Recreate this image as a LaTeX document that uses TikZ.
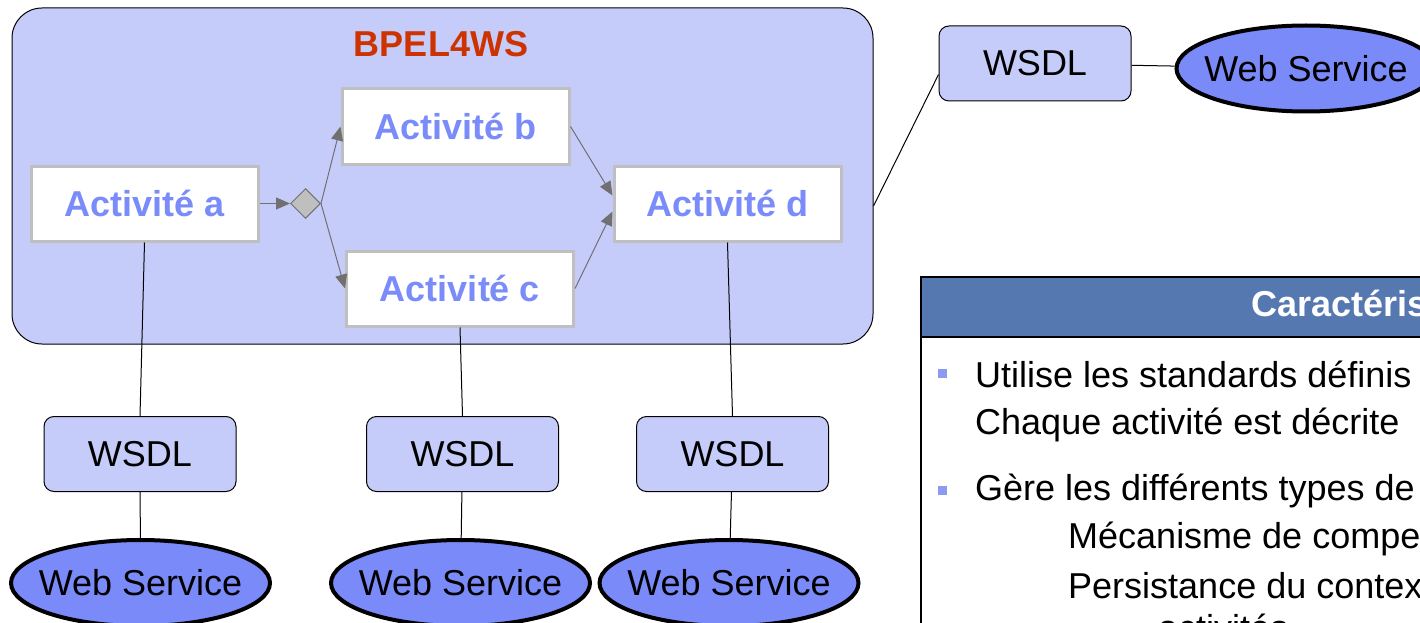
\documentclass[tikz,border=0pt]{standalone}
\usepackage{fontspec}
\setmainfont{Liberation Sans}
\usetikzlibrary{shapes.geometric,arrows.meta}
\definecolor{lavande}{RGB}{198,204,250}
\definecolor{actbleu}{RGB}{122,139,250}
\definecolor{wsbleu}{RGB}{122,138,248}
\definecolor{bpelrouge}{RGB}{204,51,0}
\definecolor{entete}{RGB}{85,120,176}
\definecolor{puce}{RGB}{140,155,240}
\definecolor{fleche}{RGB}{112,112,112}
\begin{document}
\begin{tikzpicture}[x=1pt,y=-1pt,
 every node/.style={font=\fontsize{36}{43}\selectfont},
 activite/.style={draw=gray!50,line width=3pt,fill=white,minimum width=227pt,minimum height=75pt,inner sep=0pt,text=actbleu,font=\fontsize{36}{43}\selectfont\bfseries},
 wsdl/.style={draw=black,line width=1pt,fill=lavande,rounded corners=10pt,minimum width=192pt,minimum height=75pt,inner sep=0pt},
 webservice/.style={ellipse,draw=black,line width=4pt,fill=wsbleu,minimum width=259pt,minimum height=86pt,inner xsep=-12pt,inner ysep=0pt},
 fl/.style={draw=fleche,line width=1pt,-{Triangle[length=14pt,width=12pt]}},
 lien/.style={draw=black,line width=1pt}]
 \useasboundingbox (0,0) rectangle (1420,623);
 \clip (0,0) rectangle (1420,623);
 \node[draw=black,line width=1pt,fill=lavande,rounded corners=30pt,minimum width=861pt,minimum height=336pt,inner sep=0pt] (bpel) at (442.5,176) {};
 \node[text=bpelrouge,font=\fontsize{36}{43}\selectfont\bfseries] (titre) at (441,44) {BPEL4WS};
 \node[activite] (a) at (144.5,203.5) {Activité a};
 \node[activite] (b) at (455.5,126.5) {Activité b};
 \node[activite] (c) at (460,288.5) {Activité c};
 \node[activite] (d) at (727.5,203.5) {Activité d};
 \node[diamond,draw=fleche,fill=gray!50,line width=1pt,minimum width=30pt,minimum height=30pt,inner sep=0pt] (choix) at (305.5,203.5) {};
 \draw[fl] (a) -- (choix);
 \draw[fl] (choix.east) -- (b.west);
 \draw[fl] (choix.east) -- (c.west);
 \draw[fl] (b.east) -- ([yshift=8pt]d.west);
 \draw[fl] (c.east) -- ([yshift=-8pt]d.west);
 \node[wsdl] (wsdla) at (140,454) {WSDL};
 \node[wsdl] (wsdlc) at (462.5,454) {WSDL};
 \node[wsdl] (wsdld) at (732.5,454) {WSDL};
 \node[webservice] (wsa) at (140.5,583) {Web Service};
 \node[webservice] (wsc) at (460.5,583) {Web Service};
 \node[webservice] (wsd) at (729,583) {Web Service};
 \draw[lien] (a.south) -- (wsdla.north);
 \draw[lien] (c.south) -- (wsdlc.north);
 \draw[lien] (d.south) -- (wsdld.north);
 \draw[lien] (wsdla) -- (wsa);
 \draw[lien] (wsdlc) -- (wsc);
 \draw[lien] (wsdld) -- (wsd);
 \node[wsdl] (wsdlh) at (1035,63.5) {WSDL};
 \node[webservice] (wsh) at (1306,68.5) {Web Service};
 \draw[lien] ([yshift=-30pt]bpel.east) -- ([yshift=-11pt]wsdlh.west);
 \draw[lien] (wsdlh) -- (wsh);
 \draw[draw=black,line width=2pt,fill=entete] (921,277) rectangle (1440,337);
 \draw[draw=black,line width=1.5pt] (921,337) rectangle (1440,660);
 \node[anchor=west,text=white,font=\fontsize{36}{43}\selectfont\bfseries] (entetetexte) at (1248,307) {Caractéristiques};
 \fill[puce] (938,369) rectangle (947,378);
 \fill[puce] (938,486) rectangle (947,495);
 \node[anchor=base west,inner sep=0pt] (l1) at (975,387) {Utilise les standards définis};
 \node[anchor=base west,inner sep=0pt] (l2) at (975,434) {Chaque activité est décrite};
 \node[anchor=base west,inner sep=0pt] (l3) at (975,500) {Gère les différents types de};
 \node[anchor=base west,inner sep=0pt] (l4) at (1068,548) {Mécanisme de compe};
 \node[anchor=base west,inner sep=0pt] (l5) at (1068,598) {Persistance du contex};
 \node[anchor=base west,inner sep=0pt] (l6) at (1158,640) {activités};
\end{tikzpicture}
\end{document}
